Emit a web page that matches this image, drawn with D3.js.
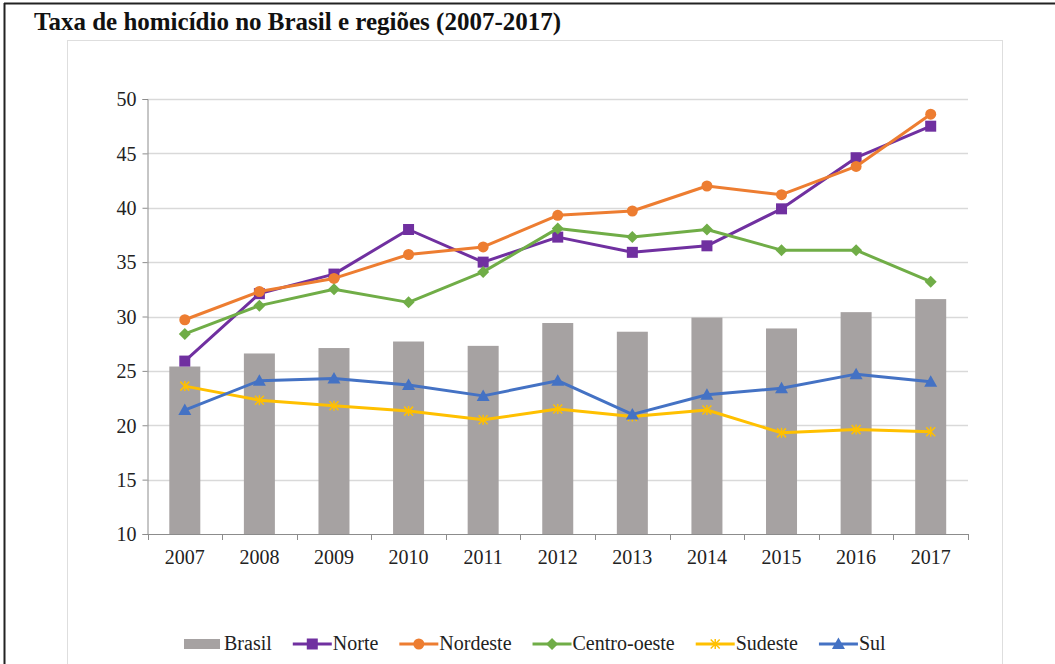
<!DOCTYPE html>
<html><head><meta charset="utf-8">
<script src="https://cdn.jsdelivr.net/npm/d3@7"></script>
<style>
html,body{margin:0;padding:0;background:#fff;}
svg{display:block;}
text{font-family:"Liberation Serif","Times New Roman",serif;}
</style></head>
<body>
<svg id="chart" width="1055" height="664"></svg>
<script>
const years = ["2007","2008","2009","2010","2011","2012","2013","2014","2015","2016","2017"];
const brasil = [25.4, 26.6, 27.1, 27.7, 27.3, 29.4, 28.6, 29.9, 28.9, 30.4, 31.6];
const norte = [25.9, 32.1, 33.9, 38.0, 35.0, 37.3, 35.9, 36.5, 39.9, 44.6, 47.5];
const nordeste = [29.7, 32.3, 33.5, 35.7, 36.4, 39.3, 39.7, 42.0, 41.2, 43.8, 48.6];
const centroOeste = [28.4, 31.0, 32.5, 31.3, 34.1, 38.1, 37.3, 38.0, 36.1, 36.1, 33.2];
const sudeste = [23.6, 22.3, 21.8, 21.3, 20.5, 21.5, 20.8, 21.4, 19.3, 19.6, 19.4];
const sul = [21.4, 24.1, 24.3, 23.7, 22.7, 24.1, 21.0, 22.8, 23.4, 24.7, 24.0];
const yTicks = [10, 15, 20, 25, 30, 35, 40, 45, 50];

(function(){
const FONT = '"Liberation Serif","Times New Roman",serif';
const FS = 20;
const svg = d3.select("#chart");

// outer frame
svg.append("line").attr("x1",4.5).attr("x2",4.5).attr("y1",3).attr("y2",664).attr("stroke","#222").attr("stroke-width",2);
svg.append("line").attr("x1",4).attr("x2",1055).attr("y1",3.5).attr("y2",3.5).attr("stroke","#222").attr("stroke-width",2);
// inner chart border
svg.append("rect").attr("x",67.5).attr("y",40.5).attr("width",935).attr("height",640)
  .attr("fill","none").attr("stroke","#dedede").attr("stroke-width",1);

svg.append("text").attr("x",34).attr("y",30).attr("font-size",25).attr("font-weight","bold").attr("fill","#111")
  .style("font-family", FONT)
  .text("Taxa de homicídio no Brasil e regiões (2007-2017)");

const pLeft = 147.5, pRight = 968, pTop = 99, pBottom = 534;
const x = d3.scaleBand().domain(years).range([pLeft, pRight]).paddingInner(0).paddingOuter(0);
const y = d3.scaleLinear().domain([10, 50]).range([pBottom, pTop]);

// grid
svg.append("g").selectAll("line").data(yTicks.slice(1)).join("line")
  .attr("x1", pLeft).attr("x2", pRight)
  .attr("y1", d => Math.round(y(d)) + 0.5).attr("y2", d => Math.round(y(d)) + 0.5)
  .attr("stroke", "#d9d9d9").attr("stroke-width", 1.3);

// bars
const bw = 31;
svg.append("g").selectAll("rect").data(years).join("rect")
  .attr("x", d => x(d) + x.bandwidth()/2 - bw/2)
  .attr("width", bw)
  .attr("y", (d,i) => y(brasil[i]))
  .attr("height", (d,i) => pBottom - y(brasil[i]))
  .attr("fill", "#a6a2a2");

// axes
const yAxis = d3.axisLeft(y).tickValues(yTicks).tickSize(5).tickPadding(6);
const gy = svg.append("g").attr("transform", `translate(${pLeft},0)`).call(yAxis)
  .attr("font-family", FONT).attr("font-size", FS);
gy.selectAll("text").attr("fill", "#222").attr("dy", "0.34em").style("font-family", FONT).style("font-size", FS + "px");
gy.selectAll("line, path").attr("stroke", "#8c8c8c");

const gx = svg.append("g").attr("transform", `translate(0,${pBottom})`);
gx.append("line").attr("x1", pLeft).attr("x2", pRight).attr("y1", 0.5).attr("y2", 0.5).attr("stroke", "#8c8c8c");
const bounds = years.map(d => x(d)).concat([pRight]);
gx.selectAll("line.tk").data(bounds).join("line").attr("class","tk")
  .attr("x1", d => Math.round(d)+0.5).attr("x2", d => Math.round(d)+0.5).attr("y1", 0).attr("y2", 6)
  .attr("stroke", "#8c8c8c");
gx.selectAll("text").data(years).join("text")
  .attr("x", d => x(d) + x.bandwidth()/2).attr("y", 30)
  .attr("text-anchor", "middle").attr("font-size", FS).style("font-family", FONT).attr("fill", "#222").text(d => d);

// series
const series = [
  {name:"Norte", values:norte, color:"#7030a0", marker:"square"},
  {name:"Nordeste", values:nordeste, color:"#ed7d31", marker:"circle"},
  {name:"Centro-oeste", values:centroOeste, color:"#70ad47", marker:"diamond"},
  {name:"Sudeste", values:sudeste, color:"#ffc000", marker:"star"},
  {name:"Sul", values:sul, color:"#4472c4", marker:"triangle"}
];
const cx = i => x(years[i]) + x.bandwidth()/2;
const line = d3.line().x((d,i) => cx(i)).y(d => y(d));

function drawMarker(g, type, color, px, py) {
  if (type === "square") {
    g.append("rect").attr("x", px-5.5).attr("y", py-5.5).attr("width", 11).attr("height", 11).attr("fill", color);
  } else if (type === "circle") {
    g.append("circle").attr("cx", px).attr("cy", py).attr("r", 5.5).attr("fill", color);
  } else if (type === "diamond") {
    g.append("path").attr("d", `M${px},${py-6}L${px+6},${py}L${px},${py+6}L${px-6},${py}Z`).attr("fill", color);
  } else if (type === "triangle") {
    g.append("path").attr("d", `M${px},${py-6.5}L${px+6.5},${py+5}L${px-6.5},${py+5}Z`).attr("fill", color);
  } else if (type === "star") {
    g.append("path").attr("d", `M${px-4.5},${py-4.5}L${px+4.5},${py+4.5}M${px-4.5},${py+4.5}L${px+4.5},${py-4.5}M${px},${py-5}L${px},${py+5}`)
      .attr("stroke", color).attr("stroke-width", 1.5).attr("fill","none");
  }
}

series.forEach(s => {
  const g = svg.append("g");
  g.append("path").datum(s.values).attr("d", line).attr("fill", "none")
    .attr("stroke", s.color).attr("stroke-width", 3).attr("stroke-linejoin", "round");
  s.values.forEach((v, i) => drawMarker(g, s.marker, s.color, cx(i), y(v)));
});

// legend
const lg = svg.append("g");
const ly = 644;
let lx = 184;
lg.append("rect").attr("x", lx).attr("y", ly-5).attr("width", 36).attr("height", 10).attr("fill", "#a6a2a2");
let t = lg.append("text").attr("x", lx+40).attr("y", ly+6).attr("font-size", FS).style("font-family", FONT).attr("fill","#222").text("Brasil");
lx = lx + 40 + t.node().getComputedTextLength() + 21;
series.forEach(s => {
  lg.append("line").attr("x1", lx).attr("x2", lx+39).attr("y1", ly).attr("y2", ly).attr("stroke", s.color).attr("stroke-width", 3);
  drawMarker(lg, s.marker, s.color, lx+19.5, ly);
  const tt = lg.append("text").attr("x", lx+40).attr("y", ly+6).attr("font-size", FS).style("font-family", FONT).attr("fill","#222").text(s.name);
  lx = lx + 40 + tt.node().getComputedTextLength() + 21;
});
})();
</script>
</body></html>
